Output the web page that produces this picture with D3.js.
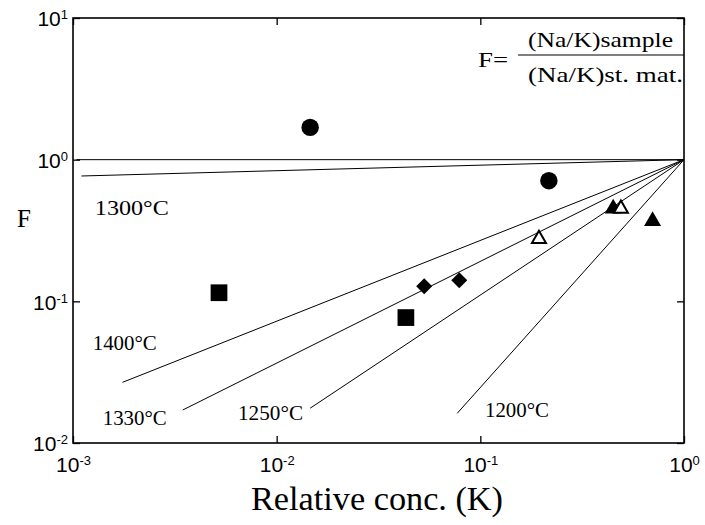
<!DOCTYPE html>
<html>
<head>
<meta charset="utf-8">
<script src="https://cdn.jsdelivr.net/npm/d3@7"></script>
<style>
  body { margin: 0; background: #fff; }
  .serif { font-family: "Liberation Serif", "Times New Roman", serif; }
  .sans { font-family: "Liberation Sans", Arial, sans-serif; }
</style>
</head>
<body>
<svg width="705" height="525"></svg>
<script>
// tick values (decades)
var xTicks = [1e-3, 1e-2, 1e-1, 1];
var yTicks = [1e-2, 1e-1, 1, 10];

// isotherm lines, straight in log-log, all ending at (1, 1)
var lineNames  = ["", "1300°C", "1400°C", "1330°C", "1250°C", "1200°C"];
var lineStartX = [0.00104, 0.00110, 0.00175, 0.00346, 0.0146, 0.077];
var lineStartF = [1, 0.767, 0.0268, 0.0171, 0.0176, 0.0162];
var lineEndX = 1, lineEndF = 1;

// where the line labels sit (data coords, left/baseline)
var labelX = [null, 0.00128, 0.00125, 0.0014, 0.00646, 0.1054];
var labelF = [null, 0.407, 0.0454, 0.0134, 0.01455, 0.0153];
var labelW = [null, 74, 64, 64, 65, 64];   // printed widths in px

// measured points
var circleX = [0.0146, 0.217],  circleF = [1.69, 0.711];
var squareX = [0.00521, 0.0431], squareF = [0.115, 0.0768];
var diamondX = [0.053, 0.0788], diamondF = [0.128, 0.1406];
var triFillX = [0.449, 0.701],  triFillF = [0.451, 0.369];
var triOpenX = [0.194, 0.49],   triOpenF = [0.276, 0.451];

var svg = d3.select("svg"),
    margin = {top: 18, right: 21, bottom: 82, left: 73},
    width = 705 - margin.left - margin.right,
    height = 525 - margin.top - margin.bottom;

var g = svg.append("g").attr("transform", "translate(" + margin.left + "," + margin.top + ")");

var x = d3.scaleLog().domain([1e-3, 1]).range([0, width]);
var y = d3.scaleLog().domain([1e-2, 10]).range([height, 0]);

function expLabel(sel, d, anchor) {
  var e = Math.round(Math.log10(d));
  sel.text(null).attr("text-anchor", anchor);
  sel.append("tspan").text("10");
  sel.append("tspan").attr("dy", "-0.55em").attr("font-size", 13).text(e);
}

// axes: inward ticks on all four sides
var inner = -7;
g.append("g").attr("transform", "translate(0," + height + ")")
  .call(d3.axisBottom(x).tickValues(xTicks).tickSize(inner).tickSizeOuter(0).tickPadding(14))
  .call(function(a) {
    a.selectAll(".tick text").attr("class", "sans").attr("font-size", 21).attr("fill", "#000")
      .each(function(d) { expLabel(d3.select(this), d, "middle"); });
  });
g.append("g")
  .call(d3.axisLeft(y).tickValues(yTicks).tickSize(inner).tickSizeOuter(0).tickPadding(5))
  .call(function(a) {
    a.selectAll(".tick text").attr("class", "sans").attr("font-size", 21).attr("fill", "#000")
      .attr("x", -5).attr("dy", "0.38em")
      .each(function(d) { expLabel(d3.select(this), d, "end"); });
  });
g.append("g")
  .call(d3.axisTop(x).tickValues(xTicks).tickSize(inner).tickSizeOuter(0).tickFormat(""));
g.append("g").attr("transform", "translate(" + width + ",0)")
  .call(d3.axisRight(y).tickValues(yTicks).tickSize(inner).tickSizeOuter(0).tickFormat(""));

g.selectAll(".domain").remove();
g.selectAll(".tick line").attr("stroke", "#000").attr("stroke-width", 1.3);

// frame
g.append("rect").attr("width", width).attr("height", height)
  .attr("fill", "none").attr("stroke", "#000").attr("stroke-width", 1.6);

// lines
var lines = lineNames.map(function(n, i) {
  return {name: n, pts: [[lineStartX[i], lineStartF[i]], [lineEndX, lineEndF]], lx: labelX[i], lf: labelF[i], w: labelW[i]};
});
var line = d3.line().x(function(d) { return x(d[0]); }).y(function(d) { return y(d[1]); });

g.selectAll(".iso").data(lines).enter().append("path")
  .attr("class", "iso")
  .attr("d", function(d) { return line(d.pts); })
  .attr("fill", "none").attr("stroke", "#000").attr("stroke-width", 1);

g.selectAll(".isolabel").data(lines.filter(function(d) { return d.name; })).enter().append("text")
  .attr("class", "serif isolabel")
  .attr("x", function(d) { return x(d.lx); })
  .attr("y", function(d) { return y(d.lf); })
  .attr("font-size", 21)
  .attr("textLength", function(d) { return d.w; })
  .attr("lengthAdjust", "spacingAndGlyphs")
  .text(function(d) { return d.name; });

// points
function pts(xs, fs) { return xs.map(function(v, i) { return [v, fs[i]]; }); }
function drawSym(data, type, size, fill, rot) {
  g.selectAll(null).data(data).enter().append("path")
    .attr("d", d3.symbol().type(type).size(size))
    .attr("transform", function(d) { return "translate(" + x(d[0]) + "," + y(d[1]) + ") rotate(" + (rot || 0) + ")"; })
    .attr("fill", fill).attr("stroke", "#000").attr("stroke-width", fill === "#000" ? 0 : 2);
}
drawSym(pts(circleX, circleF), d3.symbolCircle, 240, "#000");
drawSym(pts(squareX, squareF), d3.symbolSquare, 280, "#000");
drawSym(pts(diamondX, diamondF), d3.symbolSquare, 128, "#000", 45);
drawSym(pts(triFillX, triFillF), d3.symbolTriangle, 125, "#000");
drawSym(pts(triOpenX, triOpenF), d3.symbolTriangle, 85, "#fff");

// axis titles
svg.append("text").attr("class", "serif")
  .attr("x", 377).attr("y", 510)
  .attr("text-anchor", "middle").attr("font-size", 33)
  .attr("textLength", 252).attr("lengthAdjust", "spacingAndGlyphs")
  .text("Relative conc. (K)");
svg.append("text").attr("class", "serif")
  .attr("x", 24).attr("y", 227)
  .attr("text-anchor", "middle").attr("font-size", 25)
  .text("F");

// formula
var fx = svg.append("g").attr("class", "serif").attr("font-size", 22);
function ftext(tx, ty, len, s) {
  fx.append("text").attr("x", tx).attr("y", ty)
    .attr("textLength", len).attr("lengthAdjust", "spacingAndGlyphs").text(s);
}
ftext(478, 67, 30, "F=");
ftext(528, 47, 145, "(Na/K)sample");
fx.append("line").attr("x1", 518).attr("x2", 684).attr("y1", 55).attr("y2", 55)
  .attr("stroke", "#000").attr("stroke-width", 1.2);
ftext(528, 82, 155, "(Na/K)st. mat.");
</script>
</body>
</html>
